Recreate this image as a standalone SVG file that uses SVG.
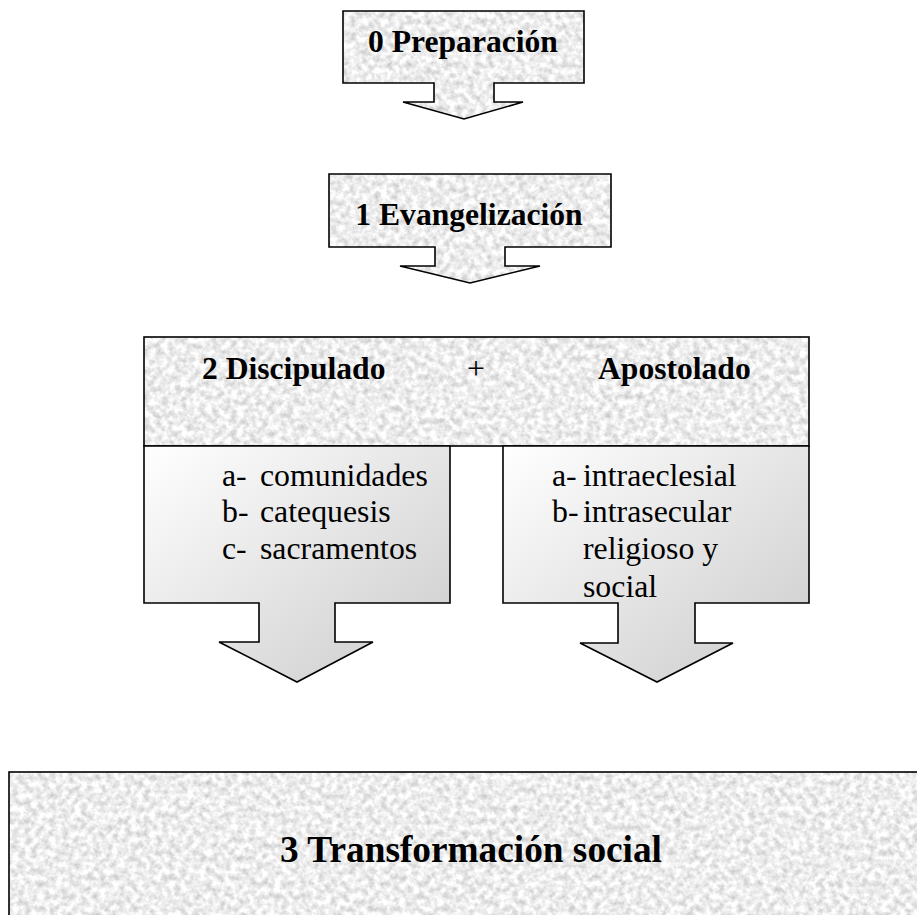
<svg xmlns="http://www.w3.org/2000/svg" width="917" height="915" viewBox="0 0 917 915">
<style>
.edge{fill:none;stroke:#000;stroke-width:1.6;stroke-linejoin:miter}
.tex{fill:#000;filter:url(#granite)}
.grad{fill:url(#shade)}
.title{font-family:"Liberation Serif","Times New Roman",serif;font-weight:bold;font-size:31.6px;fill:#000}
.big{font-family:"Liberation Serif","Times New Roman",serif;font-weight:bold;font-size:37.3px;fill:#000}
.item{font-family:"Liberation Serif","Times New Roman",serif;font-size:31.8px;fill:#000}
</style>
<defs>
<filter id="granite" x="0" y="0" width="1" height="1" color-interpolation-filters="sRGB">
<feTurbulence type="fractalNoise" baseFrequency="0.16" numOctaves="4" seed="7" result="n"/>
<feColorMatrix in="n" type="matrix" values="0.38 0 0 0 0.74  0.38 0 0 0 0.74  0.38 0 0 0 0.74  0 0 0 0 1" result="g"/>
<feComposite in="g" in2="SourceAlpha" operator="in"/>
</filter>
<linearGradient id="shade" x1="0" y1="0" x2="1" y2="1">
<stop offset="0" stop-color="#ffffff"/>
<stop offset="1" stop-color="#cbcbcb"/>
</linearGradient>
<path id="s0" d="M343,11 H584 V83 H494 V102 H523 L464,119 L403,102 H434 V83 H343 Z"/>
<path id="s1" d="M329,174 H611 V247 H505 V266 H540 L470,283 L400,266 H435 V247 H329 Z"/>
<path id="s2l" d="M144,446 H450 V603 H335 V642 H373 L297,682 L219,642 H259 V603 H144 Z"/>
<path id="s2r" d="M503,446 H809 V603 H695 V643 H733 L657,682 L580,643 H618 V603 H503 Z"/>
</defs>
<rect width="917" height="915" fill="#fff"/>

<g id="node0">
<use href="#s0" class="tex"/>
<use href="#s0" class="edge"/>
<text class="title" x="463" y="52" text-anchor="middle">0 Preparación</text>
</g>

<g id="node1">
<use href="#s1" class="tex"/>
<use href="#s1" class="edge"/>
<text class="title" x="469" y="225" text-anchor="middle">1 Evangelización</text>
</g>

<g id="node2">
<rect x="144" y="337" width="665" height="109" class="tex"/>
<rect x="144" y="337" width="665" height="109" class="edge"/>
<text class="title" x="202" y="379">2 Discipulado</text>
<text class="item" x="476" y="379" text-anchor="middle">+</text>
<text class="title" x="598" y="379">Apostolado</text>
</g>

<g id="node2a">
<use href="#s2l" class="grad"/>
<use href="#s2l" class="edge"/>
<text class="item" x="222" y="486">a-</text><text class="item" x="260" y="486">comunidades</text>
<text class="item" x="222" y="522">b-</text><text class="item" x="260" y="522">catequesis</text>
<text class="item" x="222" y="559">c-</text><text class="item" x="260" y="559">sacramentos</text>
</g>

<g id="node2b">
<use href="#s2r" class="grad"/>
<use href="#s2r" class="edge"/>
<text class="item" x="552" y="486">a-</text><text class="item" x="583" y="486">intraeclesial</text>
<text class="item" x="552" y="522">b-</text><text class="item" x="583" y="522">intrasecular</text>
<text class="item" x="583" y="559">religioso y</text>
<text class="item" x="583" y="597">social</text>
</g>

<g id="node3">
<rect x="9" y="772" width="1000" height="300" class="tex"/>
<rect x="9" y="772" width="1000" height="300" class="edge"/>
<text class="big" x="471" y="862" text-anchor="middle">3 Transformación social</text>
</g>

<g id="connectors"></g>
</svg>
